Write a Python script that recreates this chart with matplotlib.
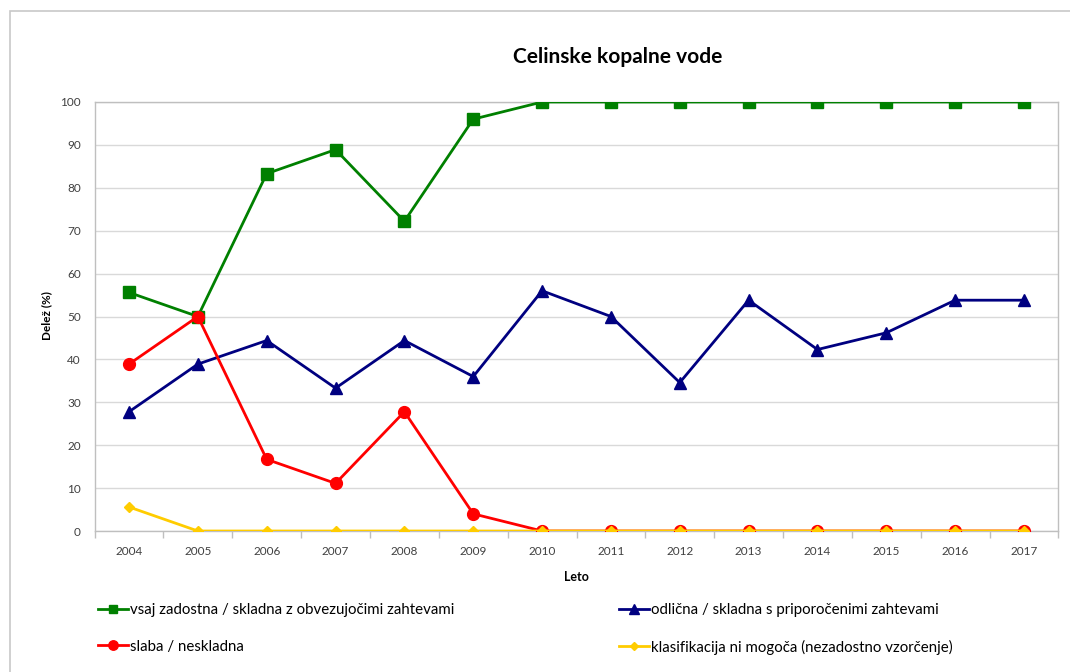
import matplotlib
matplotlib.use("Agg")
import matplotlib.pyplot as plt
from matplotlib.patches import Rectangle

years = ["2004", "2005", "2006", "2007", "2008", "2009", "2010",
         "2011", "2012", "2013", "2014", "2015", "2016", "2017"]
zadostna = [55.6, 50, 83.3, 88.9, 72.2, 96, 100, 100, 100, 100, 100, 100, 100, 100]
odlicna = [27.8, 38.9, 44.4, 33.3, 44.4, 36, 56, 50, 34.6, 53.8, 42.3, 46.2, 53.8, 53.8]
slaba = [38.9, 50, 16.7, 11.1, 27.8, 4, 0, 0, 0, 0, 0, 0, 0, 0]
ni_mogoca = [5.6, 0, 0, 0, 0, 0, 0, 0, 0, 0, 0, 0, 0, 0]
labels = ["vsaj zadostna / skladna z obvezujočimi zahtevami",
          "odlična / skladna s priporočenimi zahtevami",
          "slaba / neskladna",
          "klasifikacija ni mogoča (nezadostno vzorčenje)"]
yticks = [0, 10, 20, 30, 40, 50, 60, 70, 80, 90, 100]

plt.rcParams['font.family'] = ['Lato', 'DejaVu Sans']

W, H = 1070, 672
fig = plt.figure(figsize=(W / 100, H / 100), dpi=100)
fig.patches.append(Rectangle((10 / W, -0.1), 1.2, 1 - 11 / H + 0.1, transform=fig.transFigure,
                             fill=False, edgecolor="#c8c8c8", linewidth=1.2))

ax = fig.add_axes([94.6 / W, 1 - 531 / H, (1058.4 - 94.6) / W, (531 - 102) / H])
x = list(range(len(years)))

l1, = ax.plot(x, zadostna, color="#008000", lw=2.0, marker="s", ms=8, zorder=3)
l2, = ax.plot(x, odlicna, color="#000080", lw=2.0, marker="^", ms=9, zorder=3)
l3, = ax.plot(x, slaba, color="#ff0000", lw=2.0, marker="o", ms=8.5, zorder=3)
l4, = ax.plot(x, ni_mogoca, color="#ffcc00", lw=2.0, marker="D", ms=5, zorder=4)

ax.set_xlim(-0.5, len(years) - 0.5)
ax.set_ylim(0, 100)
ax.set_yticks(yticks)
ax.set_yticklabels([str(v) for v in yticks])
ax.set_xticks(x)
ax.set_xticklabels(years)
ax.set_xticks([i - 0.5 for i in range(len(years) + 1)], minor=True)
ax.tick_params(axis="x", which="major", length=0, pad=11, labelsize=8.5, colors="#404040")
ax.tick_params(axis="x", which="minor", length=5, color="#bfbfbf", width=1)
ax.tick_params(axis="y", length=0, pad=10, labelsize=8.5, colors="#404040")
ax.grid(axis="y", color="#d9d9d9", lw=1)
ax.set_axisbelow(True)
for s in ["left", "bottom", "right", "top"]:
    ax.spines[s].set_color("#bfbfbf")
    ax.spines[s].set_linewidth(1)

fig.text(47 / W, 1 - 316 / H, "Delež (%)", rotation=90, ha="center", va="center",
         fontsize=8.5, fontweight="bold", color="#000000")
fig.text(576 / W, 1 - 577 / H, "Leto", ha="center", va="center",
         fontsize=9, fontweight="bold", color="#000000")
fig.text(618 / W, 1 - 57 / H, "Celinske kopalne vode", ha="center", va="center",
         fontsize=15, fontweight="bold", color="#000000")

leg_kw = dict(loc="upper left", frameon=False, fontsize=10.8, handlelength=2.0,
              handletextpad=0.15, labelspacing=1.5, borderpad=0, borderaxespad=0,
              markerscale=0.8)
fig.legend([l1, l3], [labels[0], labels[2]], bbox_to_anchor=(98 / W, 1 - 603 / H), **leg_kw)
fig.legend([l2, l4], [labels[1], labels[3]], bbox_to_anchor=(619 / W, 1 - 603 / H), **leg_kw)

fig.savefig("out.png", dpi=100)
